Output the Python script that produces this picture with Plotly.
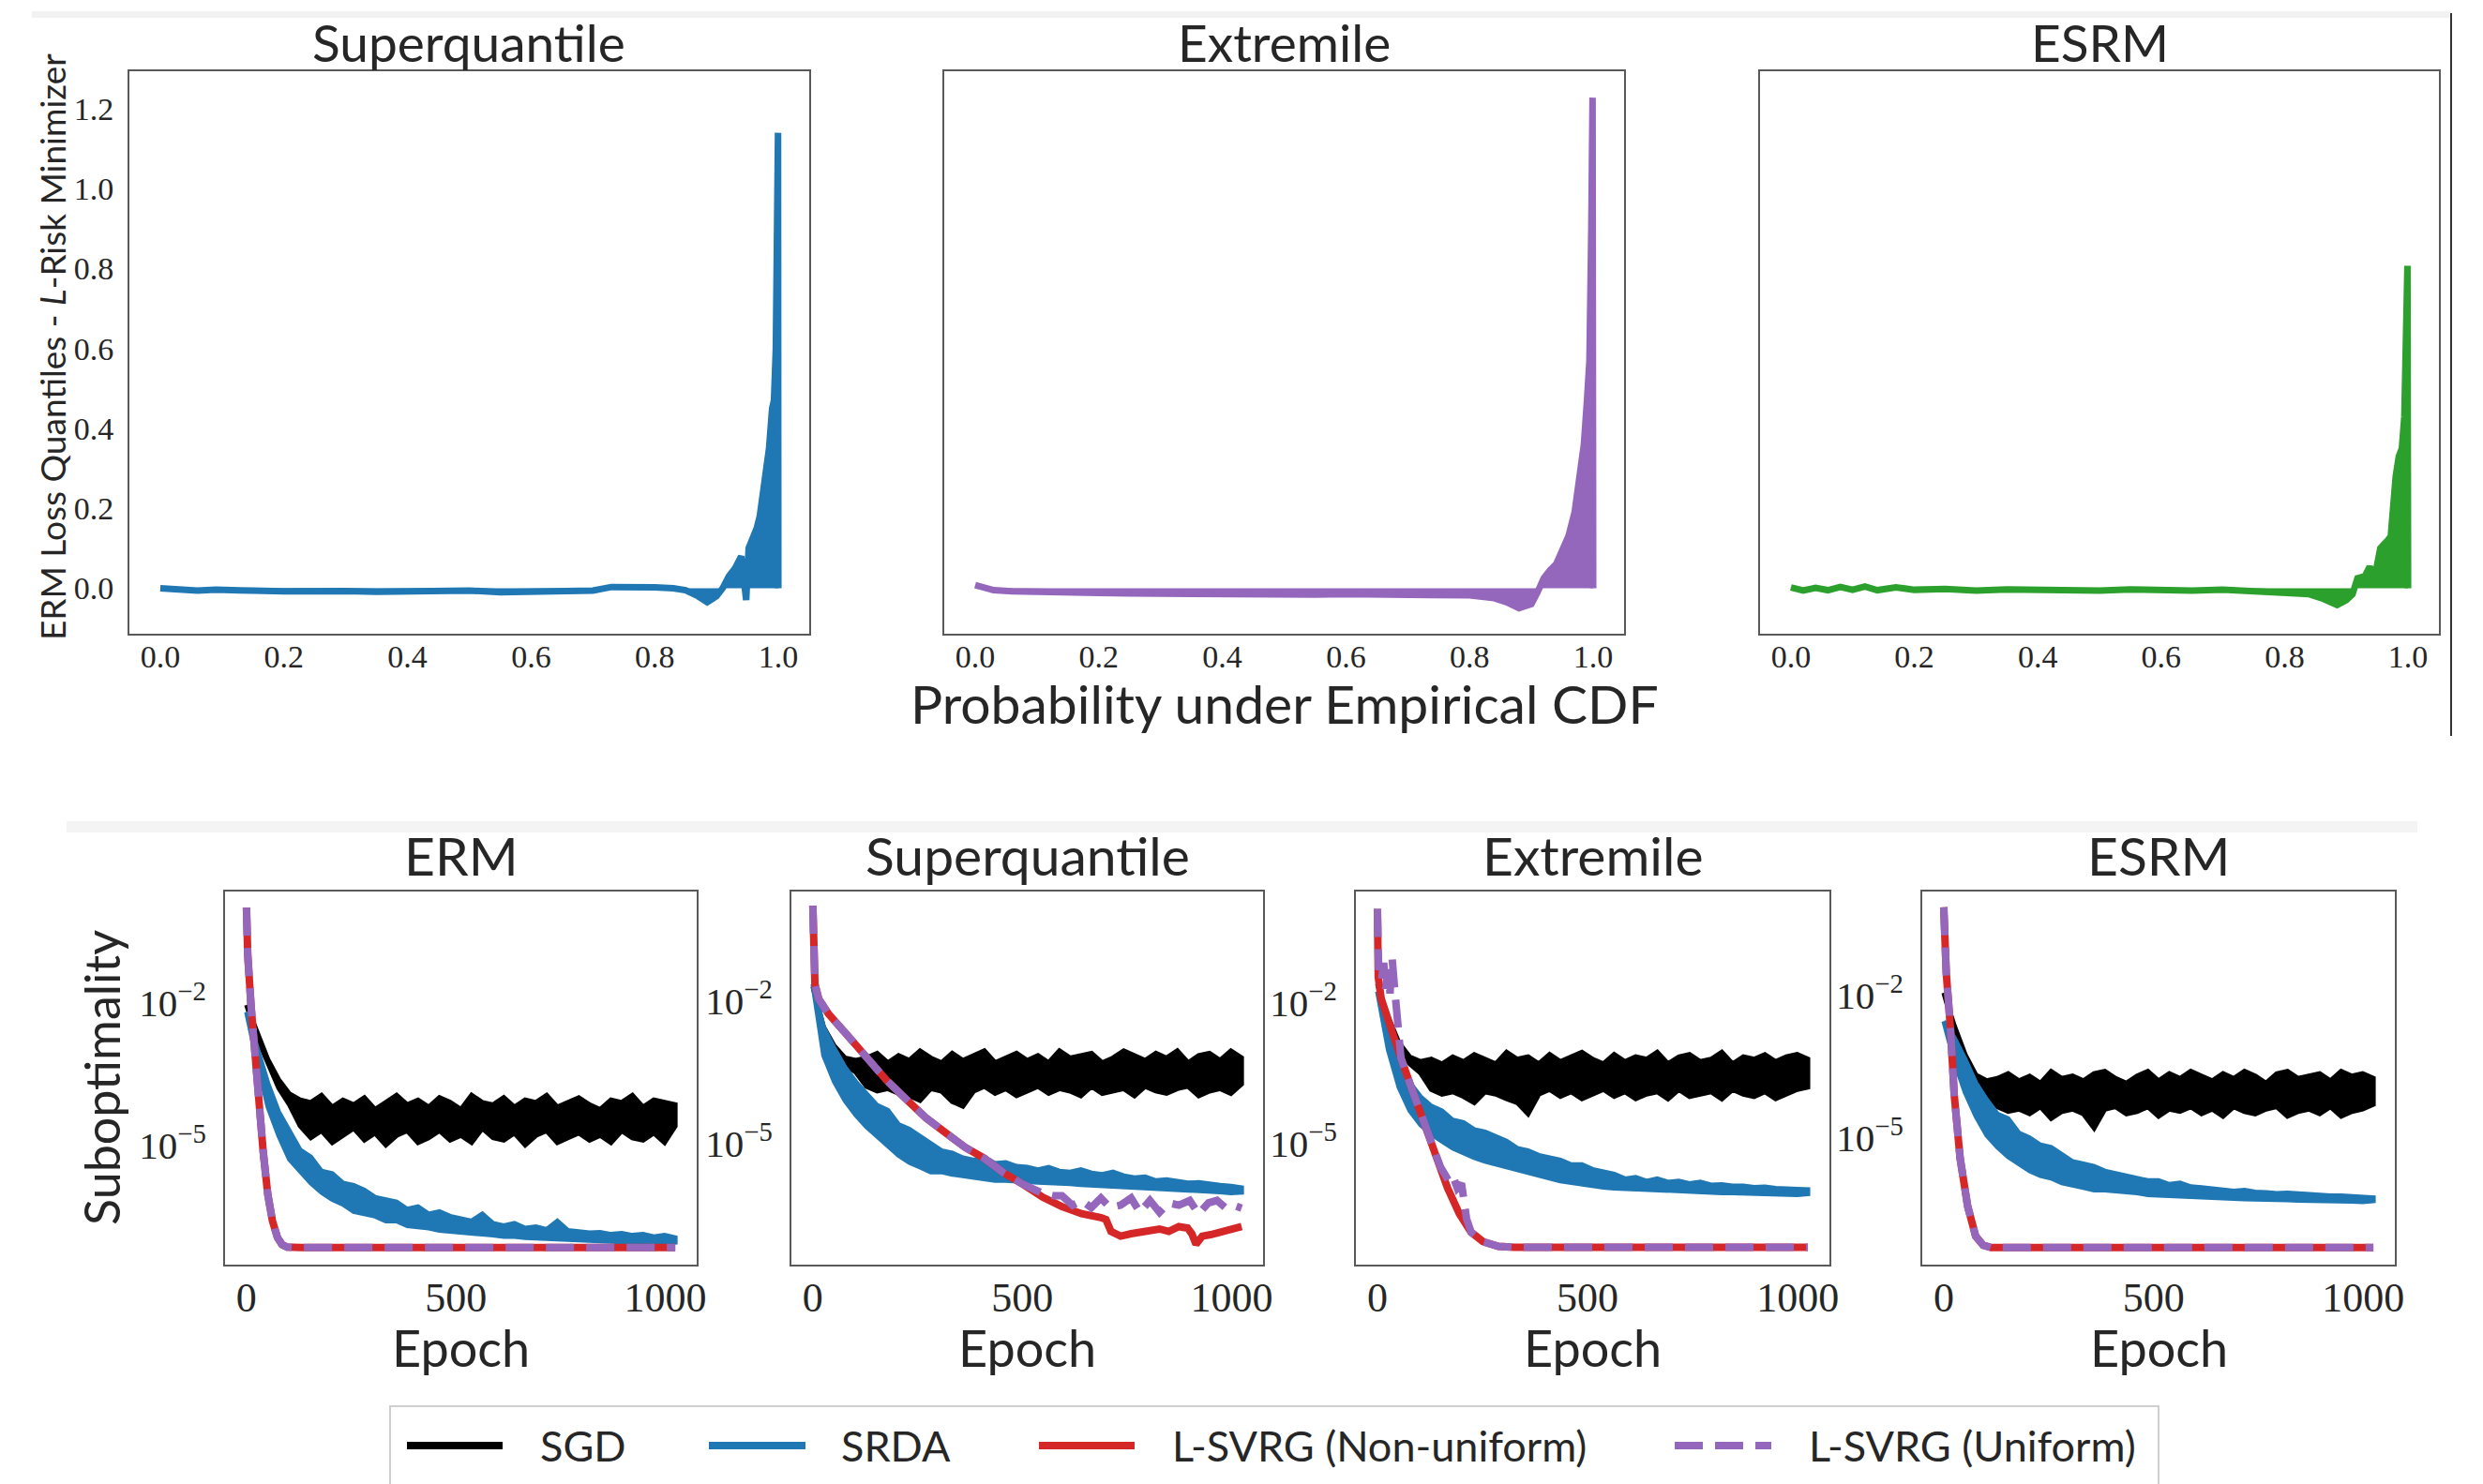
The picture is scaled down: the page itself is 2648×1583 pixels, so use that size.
import numpy as np
import plotly.graph_objects as go

W, H = 2648, 1583

# ---------------- Top row: ERM loss quantiles minus L-risk minimizer quantiles ----------------
TOP_TITLES = ["Superquantile", "Extremile", "ESRM"]
TOP_COLORS = ["#1f77b4", "#9467bd", "#2ca02c"]

SQ_P = [0.0, 0.03, 0.06, 0.09, 0.12, 0.15, 0.2, 0.25, 0.3, 0.35, 0.4, 0.45, 0.5, 0.55, 0.6, 0.65, 0.7,
        0.73, 0.76, 0.8, 0.83, 0.85, 0.87, 0.885, 0.9, 0.91, 0.92, 0.93, 0.94, 0.948, 0.952, 0.96, 0.965,
        0.97, 0.975, 0.98, 0.985, 0.99, 0.993, 0.996, 0.998, 0.9995, 1.0]
SQ_DIFF = [0.0, -0.005, -0.006, -0.004, -0.007, -0.006, -0.008, -0.006, -0.007, -0.009, -0.007, -0.008,
           -0.006, -0.01, -0.008, -0.007, -0.006, 0.003, 0.004, 0.002, 0.0, -0.005, -0.02, -0.035, -0.02,
           0.0, 0.03, 0.05, 0.08, -0.03, 0.1, 0.13, 0.15, 0.18, 0.23, 0.3, 0.35, 0.45, 0.47, 0.6, 0.85,
           1.14, 0.0]

EX_P = [0.0, 0.01, 0.03, 0.06, 0.1, 0.15, 0.2, 0.25, 0.3, 0.35, 0.4, 0.45, 0.5, 0.55, 0.6, 0.65, 0.7,
        0.75, 0.8, 0.84, 0.86, 0.88, 0.9, 0.91, 0.92, 0.93, 0.94, 0.95, 0.96, 0.97, 0.975, 0.98, 0.985,
        0.99, 0.994, 0.997, 0.999, 1.0]
EX_DIFF = [0.008, 0.004, -0.005, -0.008, -0.01, -0.012, -0.012, -0.013, -0.014, -0.013, -0.015, -0.014,
           -0.015, -0.016, -0.015, -0.016, -0.015, -0.016, -0.018, -0.025, -0.035, -0.05, -0.04, -0.01,
           0.025, 0.045, 0.06, 0.095, 0.13, 0.19, 0.24, 0.3, 0.36, 0.47, 0.57, 0.9, 1.228, 0.0]

ES_P = [0.0, 0.02, 0.04, 0.06, 0.08, 0.1, 0.12, 0.14, 0.17, 0.2, 0.25, 0.3, 0.35, 0.4, 0.45, 0.5, 0.55,
        0.6, 0.65, 0.7, 0.75, 0.8, 0.84, 0.86, 0.885, 0.9, 0.91, 0.918, 0.93, 0.938, 0.945, 0.955, 0.962,
        0.967, 0.972, 0.975, 0.98, 0.985, 0.99, 0.994, 0.997, 0.999, 1.0]
ES_DIFF = [0.002, -0.006, 0.001, -0.005, 0.003, -0.004, 0.004, -0.005, 0.002, -0.004, -0.002, -0.006,
           -0.003, -0.005, -0.004, -0.006, -0.003, -0.005, -0.006, -0.004, -0.008, -0.01, -0.015, -0.025,
           -0.042, -0.03, -0.015, 0.025, 0.03, 0.054, 0.02, 0.1, 0.11, 0.12, 0.13, 0.2, 0.28, 0.33, 0.35,
           0.43, 0.6, 0.807, 0.0]

TOP_XTICKS = [0.0, 0.2, 0.4, 0.6, 0.8, 1.0]
TOP_YTICKS = [0.0, 0.2, 0.4, 0.6, 0.8, 1.0, 1.2]

# ---------------- Bottom row: suboptimality (log10 values) vs epoch ----------------
BOT_TITLES = ["ERM", "Superquantile", "Extremile", "ESRM"]
EPOCH_END = 1024
BOT_XTICKS = [0, 500, 1000]
BOT_YTICKS = [1e-2, 1e-5]
BOT_YTICK_TEXT = ["10<sup>\u22122</sup>", "10<sup>\u22125</sup>"]
SERIES_NAMES = ["SGD", "SRDA", "L-SVRG (Non-uniform)", "L-SVRG (Uniform)"]
SERIES_COLORS = ["#000000", "#1f77b4", "#d62728", "#9467bd"]

# SGD / SRDA are noisy: top and bottom edges of the band, log10 readings evenly spaced over 0..1024 epochs
ERM_SGD_TOP = [-2.05, -2.65, -3.2, -3.62, -3.92, -4.05, -4.1, -3.95, -4.2, -4.05, -4.15, -4.0, -4.25, -4.1,
               -3.95, -4.15, -4.05, -4.2, -4.0, -4.1, -4.25, -3.95, -4.1, -4.15, -4.0, -4.2, -4.05, -4.1,
               -3.95, -4.2, -4.1, -4.0, -4.15, -4.25, -4.05, -4.1, -3.95, -4.2, -4.05, -4.1, -4.15]
ERM_SGD_BOTTOM = [-2.05, -2.75, -3.3, -3.8, -4.15, -4.6, -4.85, -4.7, -4.95, -4.8, -4.65, -4.9, -4.75, -5.0,
                  -4.8, -4.7, -4.95, -4.85, -4.7, -4.9, -4.8, -4.95, -4.65, -4.85, -4.9, -4.75, -5.0, -4.8,
                  -4.7, -4.95, -4.85, -4.75, -4.9, -4.8, -4.95, -4.7, -4.85, -4.9, -4.75, -4.95, -4.6]
ERM_SRDA_TOP = [-2.2, -2.95, -3.7, -4.3, -4.7, -5.1, -5.25, -5.55, -5.6, -5.8, -5.85, -5.95, -6.1, -6.15,
                -6.2, -6.35, -6.3, -6.45, -6.4, -6.5, -6.55, -6.6, -6.45, -6.65, -6.7, -6.65, -6.75, -6.72,
                -6.78, -6.6, -6.8, -6.82, -6.85, -6.84, -6.88, -6.86, -6.9, -6.88, -6.93, -6.9, -6.95]
ERM_SRDA_BOTTOM = [-2.2, -3.25, -4.2, -4.8, -5.3, -5.55, -5.8, -6.0, -6.15, -6.25, -6.4, -6.45, -6.5, -6.6,
                   -6.6, -6.7, -6.72, -6.75, -6.8, -6.82, -6.85, -6.87, -6.88, -6.9, -6.93, -6.93, -6.95,
                   -6.97, -6.98, -7.0, -7.0, -7.02, -7.03, -7.03, -7.04, -7.05, -7.05, -7.06, -7.07, -7.07,
                   -7.05]
ERM_NU_EPOCH = [0, 3, 11, 20, 29, 40, 51, 62, 74, 85, 97, 110, 130, 1024]
ERM_NU_LOG = [0.0, -1.0, -2.08, -3.2, -4.26, -5.15, -6.05, -6.6, -6.95, -7.1, -7.15, -7.16, -7.16, -7.16]
ERM_U_EPOCH = [0, 3, 11, 20, 29, 40, 51, 62, 74, 85, 97, 110, 130, 1024]
ERM_U_LOG = [0.0, -1.0, -2.08, -3.2, -4.26, -5.15, -6.05, -6.6, -6.95, -7.1, -7.15, -7.16, -7.16, -7.16]

SQ_SGD_TOP = [-1.7, -2.55, -2.95, -3.2, -3.25, -3.2, -3.1, -3.3, -3.15, -3.25, -3.05, -3.2, -3.3, -3.1,
              -3.25, -3.15, -3.05, -3.3, -3.2, -3.1, -3.25, -3.15, -3.3, -3.05, -3.2, -3.15, -3.1, -3.3,
              -3.2, -3.05, -3.15, -3.25, -3.1, -3.2, -3.05, -3.3, -3.15, -3.1, -3.25, -3.05, -3.2]
SQ_SGD_BOTTOM = [-1.7, -2.65, -3.05, -3.35, -3.5, -3.8, -3.9, -3.85, -3.95, -4.0, -4.1, -3.85, -3.9, -4.12,
                 -4.22, -3.9, -3.8, -3.95, -3.85, -4.0, -3.9, -3.8, -3.95, -3.85, -3.9, -4.0, -3.8, -3.95,
                 -3.9, -3.85, -4.0, -3.8, -3.9, -3.95, -3.85, -3.8, -4.0, -3.9, -3.85, -3.95, -3.75]
SQ_SRDA_TOP = [-1.65, -2.55, -3.0, -3.4, -3.7, -3.95, -4.2, -4.3, -4.6, -4.7, -4.85, -5.0, -5.15, -5.2,
               -5.3, -5.35, -5.3, -5.42, -5.4, -5.48, -5.5, -5.55, -5.5, -5.58, -5.6, -5.55, -5.62, -5.65,
               -5.6, -5.68, -5.72, -5.7, -5.78, -5.76, -5.8, -5.83, -5.82, -5.86, -5.88, -5.9, -5.93]
SQ_SRDA_BOTTOM = [-1.65, -3.15, -3.7, -4.1, -4.4, -4.65, -4.85, -5.05, -5.25, -5.4, -5.5, -5.6, -5.6, -5.65,
                  -5.7, -5.72, -5.75, -5.78, -5.78, -5.8, -5.8, -5.82, -5.83, -5.85, -5.85, -5.87, -5.88,
                  -5.9, -5.91, -5.92, -5.93, -5.94, -5.95, -5.96, -5.97, -5.98, -6.0, -6.01, -6.02, -6.04,
                  -6.03]
SQ_NU_EPOCH = [0, 3, 5, 14, 37, 84, 130, 177, 223, 270, 316, 363, 409, 456, 502, 549, 595, 642, 688, 700,
               712, 735, 760, 781, 805, 828, 850, 874, 895, 905, 915, 930, 950, 967, 990, 1010, 1024]
SQ_NU_LOG = [0.0, -1.34, -1.65, -1.96, -2.27, -2.74, -3.21, -3.68, -4.07, -4.46, -4.77, -5.08, -5.31,
             -5.62, -5.86, -6.13, -6.33, -6.48, -6.56, -6.6, -6.85, -6.95, -6.9, -6.88, -6.85, -6.8, -6.85,
             -6.75, -6.78, -6.9, -7.12, -6.95, -6.92, -6.88, -6.85, -6.8, -6.75]
SQ_U_EPOCH = [0, 3, 5, 14, 37, 84, 130, 177, 223, 270, 316, 363, 409, 456, 502, 549, 575, 595, 620, 642,
              665, 688, 710, 735, 760, 781, 805, 828, 850, 874, 900, 921, 945, 965, 985, 1005, 1024]
SQ_U_LOG = [0.0, -1.34, -1.65, -1.96, -2.27, -2.74, -3.21, -3.68, -4.07, -4.46, -4.77, -5.08, -5.31,
            -5.62, -5.86, -6.05, -6.1, -6.1, -6.3, -6.2, -6.35, -6.15, -6.35, -6.3, -6.15, -6.45, -6.2,
            -6.45, -6.25, -6.3, -6.2, -6.48, -6.25, -6.2, -6.35, -6.3, -6.36]

EXT_SGD_TOP = [-1.6, -2.3, -2.85, -3.15, -3.25, -3.2, -3.3, -3.15, -3.25, -3.1, -3.2, -3.3, -3.05, -3.2,
               -3.15, -3.3, -3.1, -3.25, -3.15, -3.05, -3.2, -3.3, -3.1, -3.25, -3.15, -3.2, -3.05, -3.3,
               -3.15, -3.1, -3.25, -3.2, -3.05, -3.3, -3.15, -3.2, -3.1, -3.25, -3.15, -3.1, -3.2]
EXT_SGD_BOTTOM = [-1.6, -2.4, -2.95, -3.3, -3.5, -3.85, -3.95, -3.9, -4.0, -4.13, -3.9, -3.95, -4.05, -4.13,
                  -4.37, -3.95, -3.85, -4.0, -3.9, -4.05, -3.95, -3.85, -4.0, -3.9, -4.05, -3.95, -3.9,
                  -4.05, -3.85, -4.0, -3.95, -3.9, -4.05, -3.85, -3.95, -4.0, -3.9, -4.05, -3.95, -3.85,
                  -3.8]
EXT_SRDA_TOP = [-1.76, -2.5, -3.2, -3.7, -4.0, -4.2, -4.3, -4.5, -4.55, -4.7, -4.75, -4.85, -4.95, -5.1,
                -5.15, -5.25, -5.3, -5.35, -5.45, -5.45, -5.55, -5.6, -5.65, -5.75, -5.72, -5.8, -5.75,
                -5.82, -5.8, -5.85, -5.82, -5.88, -5.87, -5.9, -5.9, -5.93, -5.92, -5.95, -5.95, -5.97,
                -5.98]
EXT_SRDA_BOTTOM = [-1.76, -3.0, -3.8, -4.3, -4.6, -4.8, -4.95, -5.1, -5.2, -5.3, -5.38, -5.45, -5.5, -5.55,
                   -5.62, -5.68, -5.74, -5.8, -5.84, -5.88, -5.9, -5.93, -5.95, -5.97, -5.99, -6.0, -6.01,
                   -6.02, -6.02, -6.03, -6.04, -6.04, -6.05, -6.05, -6.06, -6.07, -6.07, -6.08, -6.08,
                   -6.09, -6.07]
EXT_NU_EPOCH = [0, 2, 9, 28, 56, 84, 112, 140, 167, 195, 223, 251, 288, 326, 1024]
EXT_NU_LOG = [0.0, -1.45, -1.92, -2.47, -3.18, -3.89, -4.6, -5.31, -5.95, -6.5, -6.89, -7.09, -7.19,
              -7.21, -7.21]
EXT_U_EPOCH = [0, 3, 6, 10, 15, 20, 25, 30, 35, 40, 45, 50, 56, 84, 112, 140, 150, 160, 170, 180, 190,
               200, 206, 212, 223, 251, 288, 326, 1024]
EXT_U_LOG = [0.0, -1.3, -1.2, -1.5, -1.15, -1.7, -1.3, -1.8, -1.05, -1.6, -2.2, -2.5, -3.18, -3.89,
             -4.6, -5.35, -5.5, -5.65, -5.8, -5.7, -5.95, -5.85, -6.15, -6.6, -6.89, -7.09, -7.19, -7.21,
             -7.21]

ESRM_SGD_TOP = [-1.95, -2.65, -3.25, -3.68, -3.8, -3.75, -3.65, -3.8, -3.7, -3.85, -3.6, -3.75, -3.7,
                -3.8, -3.65, -3.6, -3.75, -3.85, -3.7, -3.6, -3.8, -3.65, -3.75, -3.6, -3.7, -3.8, -3.65,
                -3.75, -3.6, -3.7, -3.85, -3.65, -3.6, -3.75, -3.7, -3.65, -3.8, -3.6, -3.7, -3.65, -3.75]
ESRM_SGD_BOTTOM = [-1.95, -2.75, -3.35, -3.85, -4.1, -4.35, -4.45, -4.4, -4.5, -4.35, -4.6, -4.45, -4.4,
                   -4.5, -4.8, -4.4, -4.35, -4.5, -4.45, -4.35, -4.55, -4.4, -4.45, -4.35, -4.5, -4.4,
                   -4.55, -4.35, -4.45, -4.5, -4.4, -4.35, -4.55, -4.45, -4.4, -4.5, -4.35, -4.55, -4.45,
                   -4.4, -4.3]
ESRM_SRDA_TOP = [-2.55, -2.9, -3.35, -3.85, -4.2, -4.5, -4.6, -4.9, -5.0, -5.15, -5.2, -5.35, -5.5, -5.55,
                 -5.6, -5.7, -5.75, -5.8, -5.85, -5.9, -5.9, -5.98, -5.95, -6.03, -6.05, -6.08, -6.1,
                 -6.12, -6.1, -6.14, -6.15, -6.17, -6.16, -6.18, -6.19, -6.2, -6.22, -6.22, -6.23, -6.25,
                 -6.26]
ESRM_SRDA_BOTTOM = [-2.55, -3.4, -4.05, -4.55, -4.95, -5.2, -5.4, -5.55, -5.7, -5.8, -5.85, -5.95, -6.0,
                    -6.05, -6.1, -6.1, -6.12, -6.15, -6.16, -6.2, -6.22, -6.24, -6.25, -6.25, -6.26, -6.26,
                    -6.27, -6.28, -6.29, -6.3, -6.3, -6.31, -6.31, -6.32, -6.32, -6.33, -6.33, -6.34, -6.34,
                    -6.35, -6.33]
ESRM_NU_EPOCH = [0, 6, 16, 25, 39, 57, 76, 94, 113, 1024]
ESRM_NU_LOG = [-0.15, -1.53, -2.7, -4.1, -5.43, -6.44, -7.07, -7.26, -7.31, -7.31]
ESRM_U_EPOCH = [0, 6, 16, 25, 39, 57, 76, 94, 113, 1024]
ESRM_U_LOG = [-0.15, -1.53, -2.7, -4.1, -5.43, -6.44, -7.07, -7.26, -7.31, -7.31]

BOT_YRANGES = [(-7.52, 0.34), (-7.55, 0.30), (-7.58, 0.37), (-7.67, 0.18)]

BOTTOM = [
    (ERM_SGD_TOP, ERM_SGD_BOTTOM, ERM_SRDA_TOP, ERM_SRDA_BOTTOM, ERM_NU_EPOCH, ERM_NU_LOG, ERM_U_EPOCH, ERM_U_LOG),
    (SQ_SGD_TOP, SQ_SGD_BOTTOM, SQ_SRDA_TOP, SQ_SRDA_BOTTOM, SQ_NU_EPOCH, SQ_NU_LOG, SQ_U_EPOCH, SQ_U_LOG),
    (EXT_SGD_TOP, EXT_SGD_BOTTOM, EXT_SRDA_TOP, EXT_SRDA_BOTTOM, EXT_NU_EPOCH, EXT_NU_LOG, EXT_U_EPOCH, EXT_U_LOG),
    (ESRM_SGD_TOP, ESRM_SGD_BOTTOM, ESRM_SRDA_TOP, ESRM_SRDA_BOTTOM, ESRM_NU_EPOCH, ESRM_NU_LOG, ESRM_U_EPOCH,
     ESRM_U_LOG),
]

# ---------------- Geometry (pixels) ----------------
TOP_X_PX = [(138, 863), (1007, 1732), (1877, 2601)]
TOP_Y_PX = (76, 676)
BOT_X_PX = [(240, 743), (844, 1347), (1446, 1951), (2050, 2554)]
BOT_Y_PX = (951, 1349)

FRAME = "#595959"
TXT = "#262626"
SANS = "Lato, 'Open Sans', sans-serif"
SERIF = "'Liberation Serif', 'DejaVu Serif', serif"


def xd(l, r):
    return [l / W, r / W]


def yd(t, b):
    return [1 - b / H, 1 - t / H]


def px(p):
    return p / W


def py(p):
    return 1 - p / H


fig = go.Figure()
layout = {}


def ax_key(kind, i):
    return f"{kind}axis" if i == 1 else f"{kind}axis{i}"


def ref(kind, i):
    return kind if i == 1 else f"{kind}{i}"


base = dict(showline=True, mirror=True, linecolor=FRAME, linewidth=2, showgrid=False, zeroline=False,
            ticks="", automargin=False, fixedrange=True)

# top row
top_data = [(SQ_P, SQ_DIFF), (EX_P, EX_DIFF), (ES_P, ES_DIFF)]
for k in range(3):
    i = k + 1
    xs, ys = top_data[k]
    fig.add_trace(go.Scatter(x=xs, y=ys, mode="lines", fill="tozeroy", fillcolor=TOP_COLORS[k],
                             line=dict(color=TOP_COLORS[k], width=7), showlegend=False,
                             xaxis=ref("x", i), yaxis=ref("y", i), hoverinfo="skip"))
    layout[ax_key("x", i)] = dict(base, domain=xd(*TOP_X_PX[k]), anchor=ref("y", i), range=[-0.05, 1.05],
                                  tickvals=TOP_XTICKS, ticktext=[f"{v:.1f}" for v in TOP_XTICKS],
                                  tickfont=dict(family=SERIF, size=34, color=TXT), ticklabelstandoff=-7)
    layout[ax_key("y", i)] = dict(base, domain=yd(*TOP_Y_PX), anchor=ref("x", i), range=[-0.114, 1.294],
                                  tickvals=TOP_YTICKS, ticktext=[f"{v:.1f}" for v in TOP_YTICKS],
                                  showticklabels=(k == 0),
                                  tickfont=dict(family=SERIF, size=34, color=TXT), ticklabelstandoff=8)


def band(top, bottom, col, xr, yr):
    """Noisy band drawn as a filled polygon between its top edge and its bottom edge."""
    xt = np.linspace(0, EPOCH_END, len(top))
    xb = np.linspace(0, EPOCH_END, len(bottom))
    xs = list(xt) + list(xb[::-1])
    ys = [10 ** v for v in top] + [10 ** v for v in bottom[::-1]]
    return go.Scatter(x=xs, y=ys, mode="lines", fill="toself", fillcolor=col,
                      line=dict(color=col, width=5), showlegend=False,
                      xaxis=xr, yaxis=yr, hoverinfo="skip")


# bottom row
for k in range(4):
    i = k + 4
    sgd_t, sgd_b, srda_t, srda_b, nu_e, nu_l, u_e, u_l = BOTTOM[k]
    xr, yr = ref("x", i), ref("y", i)
    fig.add_trace(band(sgd_t, sgd_b, SERIES_COLORS[0], xr, yr))
    fig.add_trace(band(srda_t, srda_b, SERIES_COLORS[1], xr, yr))
    fig.add_trace(go.Scatter(x=nu_e, y=[10 ** v for v in nu_l], mode="lines",
                             line=dict(color=SERIES_COLORS[2], width=8), showlegend=False,
                             xaxis=xr, yaxis=yr, hoverinfo="skip"))
    fig.add_trace(go.Scatter(x=u_e, y=[10 ** v for v in u_l], mode="lines",
                             line=dict(color=SERIES_COLORS[3], width=8, dash="30px,13px"), showlegend=False,
                             xaxis=xr, yaxis=yr, hoverinfo="skip"))
    layout[ax_key("x", i)] = dict(base, domain=xd(*BOT_X_PX[k]), anchor=yr, range=[-51.2, 1075.2],
                                  tickvals=BOT_XTICKS, ticktext=[str(v) for v in BOT_XTICKS],
                                  tickfont=dict(family=SERIF, size=44, color=TXT), ticklabelstandoff=-5)
    layout[ax_key("y", i)] = dict(base, domain=yd(*BOT_Y_PX), anchor=xr, type="log", range=list(BOT_YRANGES[k]),
                                  tickvals=BOT_YTICKS, ticktext=BOT_YTICK_TEXT,
                                  tickfont=dict(family=SERIF, size=41, color=TXT), ticklabelstandoff=10)

annotations = []


def ann(text, x, y, size, family=SANS, angle=0, xanchor="center", yanchor="middle"):
    annotations.append(dict(text=text, x=px(x), y=py(y), xref="paper", yref="paper", showarrow=False,
                            xanchor=xanchor, yanchor=yanchor, textangle=angle,
                            font=dict(family=family, size=size, color=TXT)))


for k in range(3):
    ann(TOP_TITLES[k], sum(TOP_X_PX[k]) / 2, 45, 55)
for k in range(4):
    ann(BOT_TITLES[k], sum(BOT_X_PX[k]) / 2, 912, 57)
    ann("Epoch", sum(BOT_X_PX[k]) / 2, 1437, 54)
ann("Probability under Empirical CDF", sum(TOP_X_PX[1]) / 2, 750, 57)
ann("ERM Loss Quantiles - <i>L</i>-Risk Minimizer", 55, 370, 37, angle=-90)
ann("Suboptimality", 108, 1150, 52, angle=-90)

shapes = []
# faint separators / frame remnants of the composite figure
shapes.append(dict(type="rect", xref="paper", yref="paper", x0=px(34), x1=px(2614), y0=py(19), y1=py(12),
                   fillcolor="#f2f2f2", line=dict(width=0), layer="below"))
shapes.append(dict(type="rect", xref="paper", yref="paper", x0=px(71), x1=px(2578), y0=py(888), y1=py(876),
                   fillcolor="#f4f4f4", line=dict(width=0), layer="below"))
shapes.append(dict(type="line", xref="paper", yref="paper", x0=px(2614), x1=px(2614), y0=py(785), y1=py(14),
                   line=dict(color="#333333", width=2)))

# legend box and entries
LEG_Y = 1542
LEG_LINES = [(434, 536), (756, 859), (1108, 1210), (1786, 1889)]
LEG_TEXT_X = [574, 895, 1248, 1927]
shapes.append(dict(type="rect", xref="paper", yref="paper", x0=px(416), x1=px(2302), y0=py(1640), y1=py(1500),
                   fillcolor="white", line=dict(color="#cfcfcf", width=2)))
for j in range(4):
    dash = "30px,13px" if j == 3 else "solid"
    shapes.append(dict(type="line", xref="paper", yref="paper", x0=px(LEG_LINES[j][0]), x1=px(LEG_LINES[j][1]),
                       y0=py(LEG_Y), y1=py(LEG_Y), line=dict(color=SERIES_COLORS[j], width=8, dash=dash)))
    ann(SERIES_NAMES[j], LEG_TEXT_X[j], LEG_Y, 45, xanchor="left")

layout.update(dict(width=W, height=H, margin=dict(l=0, r=0, t=0, b=0), paper_bgcolor="white",
                   plot_bgcolor="white", showlegend=False, annotations=annotations, shapes=shapes))
fig.update_layout(**layout)

fig.write_html("out.html", config={"displayModeBar": False},
               post_script="document.body.style.margin='0px';document.body.style.overflow='hidden';")
